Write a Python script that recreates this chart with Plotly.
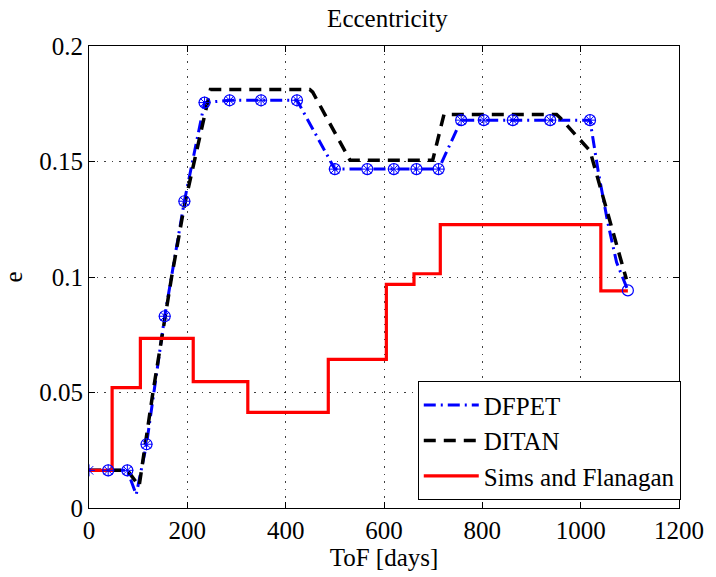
import plotly.graph_objects as go

# ---- data ----
dfpet_days = [0, 39, 78, 96, 117, 154, 194, 235, 286, 350, 423, 500, 566, 620, 666, 711,
              757, 803, 862, 938, 1019, 1036, 1055, 1073, 1096]
dfpet_e = [0.0163, 0.0163, 0.0163, 0.0058, 0.0276, 0.0830, 0.1328, 0.1755, 0.1765, 0.1765,
           0.1765, 0.1467, 0.1467, 0.1467, 0.1467, 0.1467, 0.1679, 0.1679, 0.1679, 0.1679,
           0.1679, 0.1453, 0.1237, 0.1064, 0.0942]

mark_days = [0, 39, 78, 117, 154, 194, 235, 286, 350, 423, 500, 566, 620, 666, 711,
             757, 803, 862, 938, 1019, 1096]
mark_e = [0.0163, 0.0163, 0.0163, 0.0276, 0.0830, 0.1328, 0.1755, 0.1765, 0.1765, 0.1765,
          0.1467, 0.1467, 0.1467, 0.1467, 0.1467, 0.1679, 0.1679, 0.1679, 0.1679, 0.1679,
          0.0942]

ditan_days = [0, 78, 102, 130, 168, 194, 247, 449, 455, 531, 699, 722, 951, 958, 1019, 1093]
ditan_e = [0.0163, 0.0163, 0.0095, 0.0500, 0.1000, 0.1309, 0.1812, 0.1812, 0.1800, 0.1505,
           0.1505, 0.1704, 0.1704, 0.1690, 0.1546, 0.0990]

sf_days = [0, 47, 104.5, 212, 323, 486.7, 604.8, 661, 714.5, 1041, 1096]
sf_e = [0.0163, 0.0521, 0.0734, 0.0547, 0.0414, 0.0643, 0.0968, 0.1014, 0.1227, 0.0940, 0.0940]

x_ticks = [0, 200, 400, 600, 800, 1000, 1200]
x_ticktext = ["0", "200", "400", "600", "800", "1000", "1200"]
y_ticks = [0, 0.05, 0.1, 0.15, 0.2]
y_ticktext = ["0", "0.05", "0.1", "0.15", "0.2"]

FONT = "Liberation Serif"
FS = 25

fig = go.Figure()
fig.add_trace(go.Scatter(x=dfpet_days, y=dfpet_e, mode="lines", name="DFPET",
                         line=dict(color="#0000ff", width=3, dash="12px,5px,2px,5px")))
fig.add_trace(go.Scatter(x=ditan_days, y=ditan_e, mode="lines", name="DITAN",
                         line=dict(color="#000000", width=3.5, dash="12px,8px")))
fig.add_trace(go.Scatter(x=sf_days, y=sf_e, mode="lines", name="Sims and Flanagan",
                         line=dict(color="#ff0000", width=3.2, shape="hv")))
fig.add_trace(go.Scatter(x=mark_days[1:], y=mark_e[1:], mode="markers", showlegend=False,
                         marker=dict(symbol="circle-open", size=11, color="#0000ff",
                                     line=dict(width=1.2, color="#0000ff"))))
fig.add_trace(go.Scatter(x=mark_days[:-1], y=mark_e[:-1], mode="markers", showlegend=False,
                         marker=dict(symbol="asterisk-open", size=10, color="#0000ff",
                                     line=dict(width=1, color="#0000ff"))))

axis_common = dict(showline=True, linecolor="black", linewidth=1, mirror="ticks",
                   ticks="inside", ticklen=6, tickcolor="black", showgrid=True,
                   gridcolor="rgba(0,0,0,0.75)", griddash="1.5px,6px", gridwidth=1,
                   zeroline=False, tickfont=dict(family=FONT, size=FS, color="black"))

fig.update_layout(
    width=716, height=577,
    margin=dict(l=88, r=29, t=46, b=67),
    paper_bgcolor="white", plot_bgcolor="white",
    font=dict(family=FONT, size=FS, color="black"),
    title=dict(text="Eccentricity", x=(88 + 687) / 2 / 716, xanchor="center",
               y=1 - 18 / 577, yanchor="middle", font=dict(family=FONT, size=FS)),
    xaxis=dict(range=[0, 1200], tickvals=x_ticks, ticktext=x_ticktext,
               title=dict(text="ToF [days]", standoff=3, font=dict(family=FONT, size=FS)),
               **axis_common),
    yaxis=dict(range=[0, 0.2], tickvals=y_ticks, ticktext=y_ticktext,
               title=dict(text="e", standoff=10, font=dict(family=FONT, size=FS)),
               **axis_common),
    legend=dict(x=1.003, xanchor="right", y=0.017, yanchor="bottom",
                bgcolor="white", bordercolor="black", borderwidth=1, itemwidth=55,
                font=dict(family=FONT, size=FS), tracegroupgap=0),
    showlegend=True,
)

fig.write_html("out.html")
